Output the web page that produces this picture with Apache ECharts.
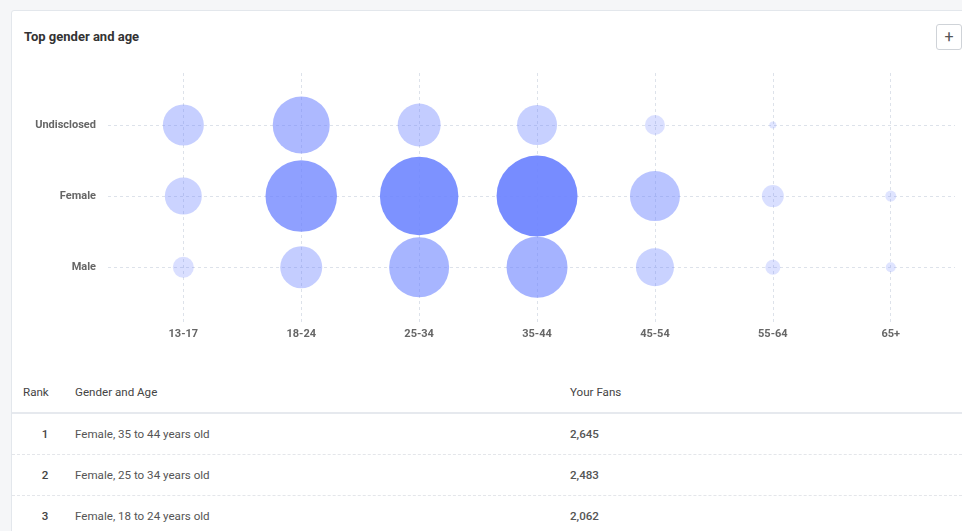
<!DOCTYPE html>
<html>
<head>
<meta charset="utf-8">
<script src="https://cdn.jsdelivr.net/npm/echarts@6/dist/echarts.min.js"></script>
<style>
  html, body { margin: 0; padding: 0; width: 962px; height: 531px; overflow: hidden; background: #f5f6f8; font-family: Roboto, "Noto Sans", sans-serif; }
  .card { position: absolute; left: 11px; top: 10px; width: 980px; height: 560px; background: #fff; border: 1px solid #e3e7ec; border-radius: 3px; }
  .title { position: absolute; left: 24px; top: 29px; font-size: 13px; font-weight: bold; color: #333; line-height: 16px; }
  .btn { position: absolute; left: 936px; top: 24px; width: 24px; height: 24px; border: 1px solid #cfd3d8; border-radius: 3px; background: #fff; color: #555; font-size: 16px; line-height: 23px; text-align: center; }
  #chart { position: absolute; left: 0; top: 0; width: 962px; height: 360px; }
  .cell { position: absolute; font-size: 11.6px; line-height: 14px; color: #555; white-space: nowrap; }
  .head { color: #444; }
  .rank { width: 20px; text-align: center; font-weight: 500; color: #444; }
  .fans { font-weight: 500; color: #555; }
  .hline { position: absolute; left: 12px; width: 960px; height: 0; }
</style>
</head>
<body>
<div class="card"></div>
<div class="title">Top gender and age</div>
<div class="btn">+</div>
<div id="chart"></div>
<div id="table"></div>
<script>
// Age brackets along the horizontal axis
const ageGroups = ['13-17', '18-24', '25-34', '35-44', '45-54', '55-64', '65+'];
// Gender rows, bottom to top
const genders = ['Male', 'Female', 'Undisclosed'];
// Fans per age bracket for each gender (null = no fans)
const maleFans = [178, 711, 1451, 1500, 582, 91, 40];
const femaleFans = [552, 2062, 2483, 2645, 1008, 195, 49];
const undisclosedFans = [678, 1310, 745, 645, 161, 20, null];
// Table headings
const tableHeads = ['Rank', 'Gender and Age', 'Your Fans'];

const fansByGender = [maleFans, femaleFans, undisclosedFans];
const points = [];
fansByGender.forEach(function (row, g) {
  row.forEach(function (v, a) {
    if (v != null) points.push([a, g, v]);
  });
});
const maxFans = Math.max.apply(null, points.map(function (p) { return p[2]; }));

const labelStyle = { color: '#666', fontSize: 11, fontWeight: 'bold', fontFamily: 'Roboto' };
const gridLineStyle = { type: [3, 3], color: '#dde2ea', width: 1 };

const chart = echarts.init(document.getElementById('chart'), null, { renderer: 'canvas' });
chart.setOption({
  animation: false,
  grid: { left: 108, top: 72, width: 847, height: 250, containLabel: false },
  xAxis: {
    type: 'value', min: -0.639, max: 6.545,
    axisLine: { show: false }, axisTick: { show: false }, splitLine: { show: false },
    axisLabel: Object.assign({
      customValues: ageGroups.map(function (_, i) { return i; }),
      formatter: function (v) { return ageGroups[Math.round(v)]; },
      margin: 7
    }, labelStyle)
  },
  yAxis: {
    type: 'value', min: -0.77, max: 2.745,
    axisLine: { show: false }, axisTick: { show: false }, splitLine: { show: false },
    axisLabel: Object.assign({
      customValues: genders.map(function (_, i) { return i; }),
      formatter: function (v) { return genders[Math.round(v)]; },
      margin: 12
    }, labelStyle)
  },
  visualMap: {
    show: false, type: 'continuous', dimension: 2, min: 0, max: maxFans,
    seriesIndex: 1,
    inRange: { colorAlpha: [0.205, 0.925] }
  },
  series: [
    {
      // dashed guide lines through every age bracket and gender row, kept behind the bubbles
      type: 'scatter', data: [], z: 1, silent: true,
      markLine: {
        z: 0, silent: true, symbol: 'none', animation: false,
        label: { show: false },
        lineStyle: gridLineStyle,
        emphasis: { disabled: true },
        data: ageGroups.map(function (_, i) { return { xAxis: i }; })
          .concat(genders.map(function (_, i) { return { yAxis: i }; }))
      }
    },
    {
      type: 'scatter', z: 2,
      data: points,
      symbolSize: function (d) { return 1.575 * Math.sqrt(d[2]); },
      itemStyle: { color: '#6c83ff', opacity: 1 }
    }
  ]
});

// Ranking table: the top three gender/age combinations
const ranked = points.slice().sort(function (a, b) { return b[2] - a[2]; }).slice(0, 3);
const table = document.getElementById('table');
function cell(text, left, centerY, cls) {
  const d = document.createElement('div');
  d.className = 'cell ' + (cls || '');
  d.textContent = text;
  d.style.left = left + 'px';
  d.style.top = (centerY - 7) + 'px';
  table.appendChild(d);
}
function line(y, style) {
  const d = document.createElement('div');
  d.className = 'hline';
  d.style.top = y + 'px';
  d.style.borderTop = style;
  table.appendChild(d);
}
cell(tableHeads[0], 23, 392, 'head');
cell(tableHeads[1], 75, 392, 'head');
cell(tableHeads[2], 570, 392, 'head');
line(412, '2px solid #e6e9ee');
ranked.forEach(function (p, i) {
  const y = 433.5 + i * 41;
  const ages = ageGroups[p[0]].replace('-', ' to ');
  cell(String(i + 1), 35, y, 'rank');
  cell(genders[p[1]] + ', ' + ages + ' years old', 75, y);
  cell(p[2].toLocaleString('en-US'), 570, y, 'fans');
  if (i < 2) line(454 + i * 41, '1px dashed #e4e6ea');
});
</script>
</body>
</html>
